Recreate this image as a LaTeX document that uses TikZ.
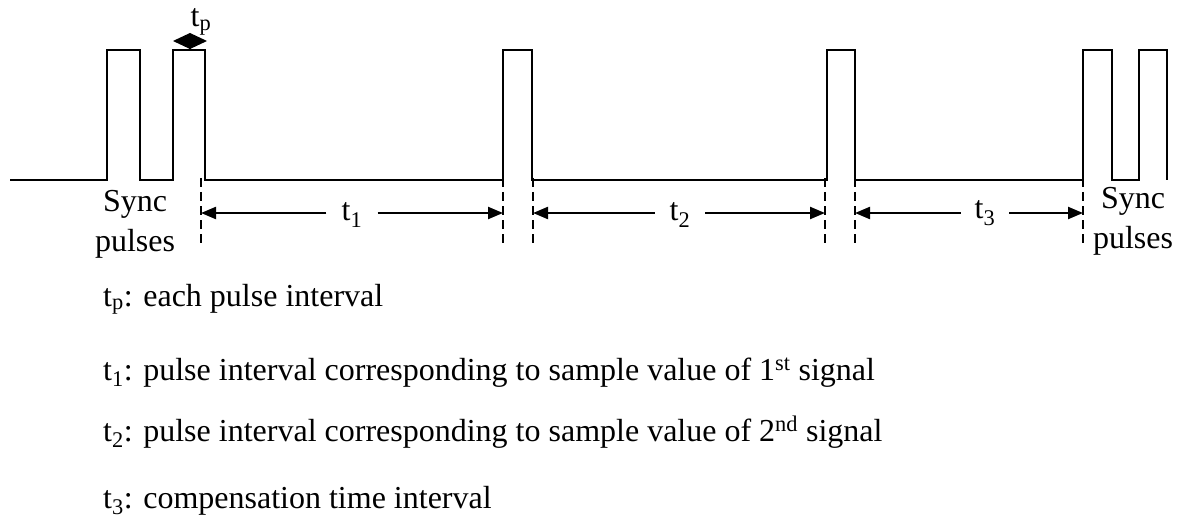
\documentclass[tikz,border=0pt]{standalone}
\usepackage{fontspec}
\setmainfont{Liberation Serif}
\usetikzlibrary{arrows.meta}
\begin{document}
\begin{tikzpicture}[x=1pt,y=-1pt,
  wave/.style={line width=2pt,line join=miter},
  guide/.style={line width=1.6pt,dash pattern=on 9pt off 5pt},
  dimarrow/.style={line width=2.2pt,-{Triangle[length=15pt,width=12pt]}},
  lbl/.style={font=\fontsize{32}{38}\selectfont,inner sep=0pt},
  leg/.style={font=\fontsize{32}{38}\selectfont,inner sep=0pt,anchor=base west}]
\useasboundingbox (0,0) rectangle (1184,524);
% waveform
\draw[wave] (10,180) -- (107,180) -- (107,50) -- (140,50) -- (140,180)
  -- (173,180) -- (173,50) -- (205,50) -- (205,180)
  -- (503,180) -- (503,50) -- (532,50) -- (532,180)
  -- (827,180) -- (827,50) -- (855,50) -- (855,180)
  -- (1083,180) -- (1083,50) -- (1112,50) -- (1112,180)
  -- (1139,180) -- (1139,50) -- (1167,50) -- (1167,180);
% tp diamond
\fill (173,41) -- (190,33) -- (207,41) -- (190,49) -- cycle;
\draw[line width=2pt] (190,46) -- (190,50);
\node[lbl,anchor=base] (tp) at (201,27) {t\textsubscript{p}};
% dashed guides
\foreach \n/\x in {g1/201,g2/503,g3/533,g4/825,g5/855,g6/1083}{
  \coordinate (\n top) at (\x,178);
  \coordinate (\n bot) at (\x,243);
  \coordinate (\n mid) at (\x,213);
  \draw[guide] (\n top) -- (\n bot);
}
% interval labels
\node[lbl,minimum width=51pt] (t1) at (352,215) {t\textsubscript{1}};
\node[lbl,minimum width=50pt] (t2) at (680,215) {t\textsubscript{2}};
\node[lbl,minimum width=48pt] (t3) at (985,213) {t\textsubscript{3}};
\draw[dimarrow] (t1.west |- g1mid) -- (g1mid);
\draw[dimarrow] (t1.east |- g2mid) -- (g2mid);
\draw[dimarrow] (t2.west |- g3mid) -- (g3mid);
\draw[dimarrow] (t2.east |- g4mid) -- (g4mid);
\draw[dimarrow] (t3.west |- g5mid) -- (g5mid);
\draw[dimarrow] (t3.east |- g6mid) -- (g6mid);
% sync labels
\node[lbl,align=center] (sync1) at (135,224) {Sync\\[2pt]pulses};
\node[lbl,align=center] (sync2) at (1133,221) {Sync\\[2pt]pulses};
% legend
\node[leg] (l0) at (103,306) {t\textsubscript{p}: each pulse interval};
\node[leg] (l1) at (103,380) {t\textsubscript{1}: pulse interval corresponding to sample value of 1\textsuperscript{st} signal};
\node[leg] (l2) at (103,441) {t\textsubscript{2}: pulse interval corresponding to sample value of 2\textsuperscript{nd} signal};
\node[leg] (l3) at (103,508) {t\textsubscript{3}: compensation time interval};
\end{tikzpicture}
\end{document}
